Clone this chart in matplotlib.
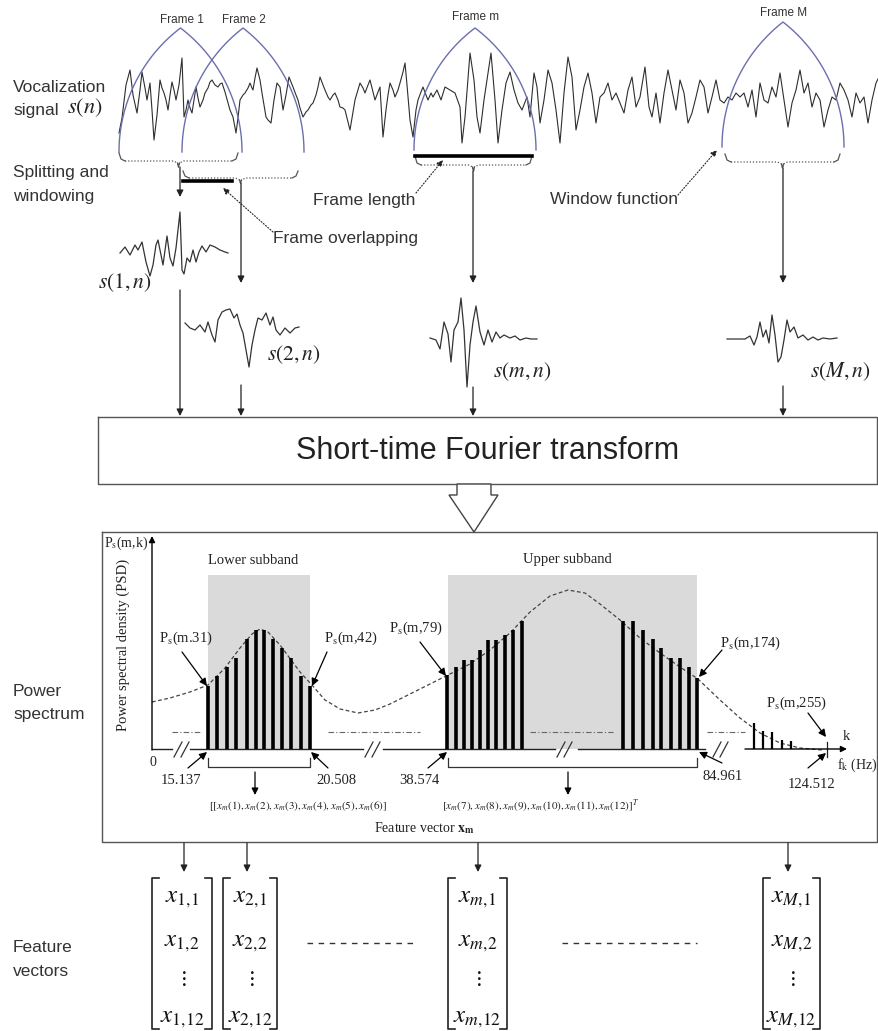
import numpy as np
import matplotlib.pyplot as plt

plt.rcParams['mathtext.fontset'] = 'stix'
SANS = 'Liberation Sans'
SERIF = 'Liberation Serif'

# ---- data (pixel units of the 879x1031 page) ----
sig_x = [119, 122, 126, 130, 133, 137, 140, 142, 145, 147, 150, 152, 154, 157, 160, 162, 164, 166, 168, 170,
         172, 174, 176, 179, 182, 184, 186, 188, 190, 192, 194, 196, 198, 200, 203, 205, 208, 210, 212, 215,
         218, 220, 222, 225, 228, 230, 233, 236, 238, 240, 243, 245, 248, 250, 252, 253, 255, 257, 260, 262,
         264, 266, 268, 271, 274, 277, 280, 283, 286, 289, 291, 293, 296, 298, 300, 303, 306, 308, 311, 313,
         316, 318, 320, 323, 325, 328, 330, 333, 335, 338, 340, 343, 345, 348, 350, 353, 355, 358, 360, 363,
         365, 368, 370, 373, 375, 378, 380, 383, 386, 388, 390, 393, 395, 398, 400, 403, 405, 407, 410, 413,
         416, 418, 421, 423, 426, 428, 431, 433, 437, 441, 445, 450, 455, 460, 462, 465, 470, 474, 477, 480,
         484, 488, 491, 495, 498, 502, 506, 510, 514, 518, 522, 527, 530, 534, 537, 540, 544, 548, 552, 556,
         560, 564, 568, 572, 576, 580, 584, 588, 592, 596, 600, 604, 608, 612, 616, 620, 624, 628, 632, 636,
         640, 645, 649, 652, 656, 660, 664, 668, 672, 676, 680, 684, 688, 692, 696, 700, 704, 708, 712, 716,
         720, 724, 728, 732, 736, 740, 744, 748, 752, 756, 760, 764, 768, 772, 776, 780, 784, 788, 792, 796,
         800, 804, 808, 812, 816, 820, 824, 828, 832, 836, 840, 844, 848, 852, 856, 860, 864, 868, 872, 876, 879]
sig_y = [133, 118, 85, 70, 95, 113, 90, 72, 88, 100, 83, 110, 140, 115, 80, 88, 93, 100, 110, 95,
         82, 90, 100, 85, 58, 117, 110, 100, 108, 113, 100, 87, 98, 107, 100, 93, 88, 82, 80, 85,
         87, 84, 83, 92, 103, 110, 117, 133, 118, 100, 95, 93, 88, 83, 88, 90, 78, 68, 80, 93,
         105, 117, 120, 123, 100, 83, 87, 110, 95, 77, 82, 87, 95, 100, 108, 117, 112, 110, 105, 103,
         95, 87, 77, 85, 90, 97, 100, 95, 93, 100, 107, 108, 110, 122, 130, 112, 100, 90, 83, 88,
         93, 85, 80, 92, 100, 92, 87, 137, 110, 95, 83, 90, 97, 90, 83, 72, 63, 85, 120, 137,
         110, 100, 92, 87, 95, 100, 93, 97, 90, 100, 87, 90, 93, 107, 143, 117, 53, 80, 117, 133,
         100, 73, 53, 100, 143, 110, 83, 72, 90, 103, 110, 97, 117, 73, 87, 123, 100, 70, 83, 110,
         143, 93, 57, 77, 130, 110, 87, 73, 93, 123, 97, 93, 83, 100, 93, 103, 113, 90, 77, 107,
         97, 67, 107, 117, 93, 123, 93, 70, 90, 110, 80, 93, 123, 113, 97, 80, 87, 113, 97, 80,
         100, 103, 97, 100, 93, 97, 93, 107, 90, 117, 83, 100, 103, 87, 97, 73, 100, 127, 103, 90,
         70, 93, 83, 107, 93, 100, 127, 110, 97, 100, 83, 90, 100, 117, 93, 103, 97, 123, 100, 83, 77]

frame_names = ['Frame 1', 'Frame 2', 'Frame m', 'Frame M']
frame_tex = [r'$s(1,n)$', r'$s(2,n)$', r'$s(m,n)$', r'$s(M,n)$']
frame_idx = ['1', '2', 'm', 'M']

s1_x = [120, 125, 130, 135, 138, 142, 146, 150, 153, 156, 158, 160, 163, 167, 170, 173, 176, 180, 182, 184,
        187, 190, 193, 196, 199, 202, 206, 210, 215, 220, 225, 228]
s1_y = [253, 247, 255, 245, 250, 242, 262, 276, 265, 245, 240, 250, 265, 236, 258, 266, 248, 212, 270, 274,
        258, 262, 250, 262, 252, 246, 252, 245, 247, 250, 252, 253]
s2_x = [185, 190, 195, 200, 205, 208, 212, 215, 218, 222, 226, 230, 234, 237, 240, 243, 246, 249, 252, 255,
        258, 262, 266, 270, 273, 276, 280, 285, 290, 295, 299]
s2_y = [323, 328, 330, 325, 332, 322, 335, 342, 320, 312, 310, 309, 318, 314, 325, 333, 350, 367, 345, 330,
        318, 320, 313, 325, 317, 330, 335, 328, 333, 328, 327]
sm_x = [430, 436, 440, 444, 448, 451, 454, 458, 461, 464, 467, 470, 473, 476, 480, 484, 488, 492, 496, 500,
        504, 510, 515, 520, 526, 531, 537]
sm_y = [338, 340, 349, 322, 334, 362, 330, 322, 298, 330, 387, 345, 322, 306, 332, 345, 330, 342, 332, 338,
        335, 338, 336, 340, 338, 339, 339]
sM_x = [727, 735, 745, 750, 754, 757, 760, 763, 766, 769, 772, 775, 778, 781, 784, 787, 790, 794, 798, 803,
        808, 813, 818, 823, 830, 837]
sM_y = [339, 339, 339, 336, 345, 337, 322, 337, 330, 343, 315, 335, 362, 357, 340, 320, 332, 327, 338, 335,
        340, 337, 340, 338, 339, 338]

# PSD envelope and spectral lines
env_x = [152, 170, 190, 208, 225, 240, 252, 260, 268, 280, 300, 311, 325, 340, 358, 375, 390, 410, 430, 448,
         470, 490, 510, 530, 550, 568, 585, 600, 620, 640, 660, 680, 698, 720, 740, 760, 780, 800, 822]
env_y = [702, 698, 692, 685, 668, 648, 634, 629, 632, 645, 672, 684, 700, 709, 713, 710, 704, 694, 684, 675,
         664, 650, 633, 612, 596, 590, 593, 604, 620, 638, 653, 667, 679, 700, 718, 733, 743, 748, 750]
low_x = [208, 217, 227, 236, 247, 256, 264, 273, 282, 291, 301, 310]
low_top = [686, 676, 667, 658, 639, 630, 630, 639, 648, 658, 676, 686]
upA_x = [447, 456, 464, 472, 480, 488, 496, 505, 513, 522]
upA_top = [675, 667, 660, 660, 650, 640, 640, 635, 630, 621]
upB_x = [623, 633, 643, 653, 661, 671, 680, 689, 697]
upB_top = [621, 621, 630, 639, 648, 658, 658, 667, 678]
tail_x = [754, 763, 772, 782, 791]
tail_top = [723, 731, 732, 740, 741]

freq_labels = ['15.137', '20.508', '38.574', '84.961', '124.512']
psd_labels = [r'P$_{\rm s}$(m.31)', r'P$_{\rm s}$(m,42)', r'P$_{\rm s}$(m,79)', r'P$_{\rm s}$(m,174)',
              r'P$_{\rm s}$(m,255)']

# ---- figure ----
fig = plt.figure(figsize=(8.79, 10.31), dpi=100)
ax = fig.add_axes([0, 0, 1, 1])
ax.set_xlim(0, 879)
ax.set_ylim(1031, 0)
ax.axis('off')


def arrow(x0, y0, x1, y1, ls='-', lw=0.9, ms=10, color='#222'):
    ax.annotate('', xy=(x1, y1), xytext=(x0, y0),
                arrowprops=dict(arrowstyle='-|>', color=color, lw=lw, ls=ls,
                                mutation_scale=ms, shrinkA=0, shrinkB=0))


def arch(x0, x1, top, bottom):
    half = (x1 - x0) / 2.0
    cx = x0 + half
    H = bottom - top
    a = (H ** 2 - half ** 2) / (2 * half)
    r = half + a
    t = np.linspace(np.pi, np.arctan2(H, -a), 60)
    lx = cx + a + r * np.cos(t)
    ly = bottom - r * np.sin(t)
    xs = np.concatenate([lx, 2 * cx - lx[::-1]])
    ys = np.concatenate([ly, ly[::-1]])
    ax.plot(xs, ys, color='#6b6fae', lw=1.0)


def brace(x0, x1, y, hook, tip):
    xc = (x0 + x1) / 2.0
    xs = [x0, x0 + 2, x0 + 6, xc - 5, xc - 1, xc, xc + 1, xc + 5, x1 - 6, x1 - 2, x1]
    ys = [y - hook, y - 2, y, y, y + 2, y + tip, y + 2, y, y, y - 2, y - hook]
    ax.plot(xs[:3], ys[:3], color='#555', lw=0.9)
    ax.plot(xs[2:9], ys[2:9], color='#555', lw=0.9, ls=(0, (1, 1.5)))
    ax.plot(xs[4:7], ys[4:7], color='#555', lw=0.9)
    ax.plot(xs[8:], ys[8:], color='#555', lw=0.9)


# left column labels
lab = dict(family=SANS, fontsize=12.5, color='#333', va='center', ha='left')
ax.text(13, 87, 'Vocalization', **lab)
ax.text(13, 110, 'signal', **lab)
ax.text(67, 108, r'$s(n)$', fontsize=16, color='#222', va='center')
ax.text(13, 173, 'Splitting and', **lab)
ax.text(13, 196, 'windowing', **lab)
ax.text(13, 691, 'Power', **lab)
ax.text(13, 714, 'spectrum', **lab)
ax.text(13, 948, 'Feature', **lab)
ax.text(13, 971, 'vectors', **lab)

# signal and frames
ax.plot(sig_x, sig_y, color='#2e2e2e', lw=0.8)
fr_l = [119, 182, 414, 722]
fr_r = [242, 304, 536, 844]
fr_top = [28, 28, 28, 22]
fr_bot = [152, 152, 150, 147]
fr_lab_y = [20, 20, 17, 13]
for i in range(4):
    arch(fr_l[i], fr_r[i], fr_top[i], fr_bot[i])
    ax.text((fr_l[i] + fr_r[i]) / 2.0 + 1, fr_lab_y[i], frame_names[i], family=SANS, fontsize=8.5,
            color='#333', ha='center', va='center')

brace(119, 238, 161, 8, 6)
brace(183, 298, 178, 7, 5)
brace(415, 532, 165, 9, 6)
brace(725, 840, 162, 8, 6)

ax.plot([183, 232], [181, 181], color='k', lw=2.6)
ax.plot([415, 532], [156, 156], color='k', lw=2.6)

arrow(273, 232, 223, 188, ls=':', lw=0.8, ms=9)
arrow(416, 193, 443, 160, ls=':', lw=0.8, ms=9)
arrow(678, 195, 717, 150, ls=':', lw=0.8, ms=9)
ax.text(273, 238, 'Frame overlapping', **lab)
ax.text(313, 200, 'Frame length', **lab)
ax.text(550, 200, 'Window function', **lab)

# arrows from braces to windowed frames
arrow(180, 167, 180, 197)
arrow(241, 183, 241, 283)
arrow(473, 171, 473, 283)
arrow(783, 168, 783, 283)

for xs, ys in [(s1_x, s1_y), (s2_x, s2_y), (sm_x, sm_y), (sM_x, sM_y)]:
    ax.plot(xs, ys, color='#333', lw=0.9)
tex_pos = [(98, 283), (267, 355), (493, 372), (810, 372)]
for i in range(4):
    ax.text(tex_pos[i][0], tex_pos[i][1], frame_tex[i], fontsize=15.5, color='#222', va='center', ha='left')

arrow(180, 290, 180, 416)
arrow(241, 385, 241, 416)
arrow(473, 387, 473, 416)
arrow(783, 386, 783, 416)

# STFT box
ax.plot([98, 877, 877, 98, 98], [417, 417, 484, 484, 417], color='#555', lw=1.0)
ax.text(488, 451, 'Short-time Fourier transform', family=SANS, fontsize=22, color='#222',
        ha='center', va='center')
ax.fill([457, 457, 449, 474, 498, 491, 491], [484, 495, 495, 532, 495, 495, 484],
        facecolor='white', edgecolor='#444', lw=1.0, zorder=3)

# power spectrum box
ax.plot([102, 877, 877, 102, 102], [532, 532, 842, 842, 532], color='#555', lw=1.0)
ax.fill_between([208, 310], 575, 749, color='#dadada', lw=0)
ax.fill_between([448, 697], 575, 749, color='#dadada', lw=0)

ser = dict(family=SERIF, color='#222', ha='center', va='center')
ax.text(253, 560, 'Lower subband', fontsize=10.5, **ser)
ax.text(567, 560, 'Upper subband', fontsize=10.5, **ser)
ax.text(126, 543, r'P$_{\rm s}$(m,k)', fontsize=10, **ser)
ax.text(123, 645, 'Power spectral density (PSD)', fontsize=10.5, rotation=90, **ser)
ax.text(153, 763, '0', fontsize=10, **ser)

# axes
arrow(152, 750, 152, 536, lw=1.0, ms=9, color='k')
for x0, x1 in [(152, 172), (190, 363), (383, 555), (578, 705)]:
    ax.plot([x0, x1], [749, 749], color='#222', lw=1.0)
arrow(745, 749, 847, 749, lw=1.0, ms=9, color='k')
for sx in [174, 365, 557, 713]:
    for d in [0, 7]:
        ax.plot([sx + d, sx + d + 8], [757, 742], color='#333', lw=0.9)
ax.plot([827, 827], [742, 757], color='#222', lw=0.9)
for x0, x1 in [(172, 200), (328, 420), (530, 613), (707, 745)]:
    ax.plot([x0, x1], [732, 732], color='#666', lw=0.8, ls=(0, (5, 2, 1, 2)))

ax.plot(env_x, env_y, color='#444', lw=0.9, ls=(0, (3, 2)))
ax.vlines(low_x, low_top, 749, color='k', lw=2.6)
ax.vlines(upA_x, upA_top, 749, color='k', lw=2.6)
ax.vlines(upB_x, upB_top, 749, color='k', lw=2.6)
ax.vlines(tail_x, tail_top, 749, color='k', lw=1.6)

ax.text(846, 737, 'k', fontsize=10.5, **ser)
ax.text(857, 765, r'f$_{\rm k}$ (Hz)', fontsize=10, **ser)

# annotations
psd_txt = [(186, 638), (351, 638), (416, 628), (751, 643), (797, 703)]
psd_tail = [(182, 652), (327, 652), (420, 642), (722, 650), (808, 713)]
psd_tip = [(207, 686), (312, 686), (446, 676), (699, 677), (826, 737)]
for i in range(5):
    ax.text(psd_txt[i][0], psd_txt[i][1], psd_labels[i], fontsize=10.5, **ser)
    arrow(psd_tail[i][0], psd_tail[i][1], psd_tip[i][0], psd_tip[i][1], lw=0.9, ms=11, color='k')
f_txt = [(181, 780), (336, 780), (419, 780), (723, 777), (812, 784)]
f_tail = [(188, 768), (328, 768), (428, 768), (722, 763), (808, 768)]
f_tip = [(207, 752), (311, 752), (447, 752), (699, 752), (826, 753)]
for i in range(5):
    ax.text(f_txt[i][0], f_txt[i][1], freq_labels[i], fontsize=10.5, **ser)
    arrow(f_tail[i][0], f_tail[i][1], f_tip[i][0], f_tip[i][1], lw=0.9, ms=11, color='k')

for x0, x1 in [(208, 310), (448, 697)]:
    ax.plot([x0, x0, x1, x1], [758, 767, 767, 758], color='#333', lw=0.9)
arrow(255, 772, 255, 795, color='k')
arrow(568, 772, 568, 795, color='k')

ax.text(298, 806, r'[$[x_m(1), x_m(2), x_m(3), x_m(4), x_m(5), x_m(6)]$', fontsize=8, **ser)
ax.text(541, 806, r'$[x_m(7), x_m(8), x_m(9), x_m(10), x_m(11), x_m(12)]^T$', fontsize=8, **ser)
ax.text(424, 828, r'Feature vector $\mathbf{x}_\mathbf{m}$', fontsize=10, **ser)

# feature vectors
vec_l = [152, 223, 448, 763]
vec_r = [212, 277, 507, 820]
vec_arrow_x = [184, 247, 478, 788]
for i in range(4):
    arrow(vec_arrow_x[i], 843, vec_arrow_x[i], 872)
    l, r = vec_l[i], vec_r[i]
    ax.plot([l + 7, l, l, l + 7], [878, 878, 1029, 1029], color='#222', lw=1.2)
    ax.plot([r - 7, r, r, r - 7], [878, 878, 1029, 1029], color='#222', lw=1.2)
    c = (l + r) / 2.0
    j = frame_idx[i]
    ax.text(c, 898, r'$x_{%s,\!1}$' % j, fontsize=18, ha='center', va='center', color='#111')
    ax.text(c, 942, r'$x_{%s,\!2}$' % j, fontsize=18, ha='center', va='center', color='#111')
    ax.text(c, 978, r'$\vdots$', fontsize=15, ha='center', va='center', color='#111')
    ax.text(c, 1018, r'$x_{%s,\!12}$' % j, fontsize=18, ha='center', va='center', color='#111')
ax.plot([307, 413], [943, 943], color='#333', lw=1.0, ls=(0, (4, 4)))
ax.plot([562, 697], [943, 943], color='#333', lw=1.0, ls=(0, (4, 4)))

fig.savefig('out.png', dpi=100)
